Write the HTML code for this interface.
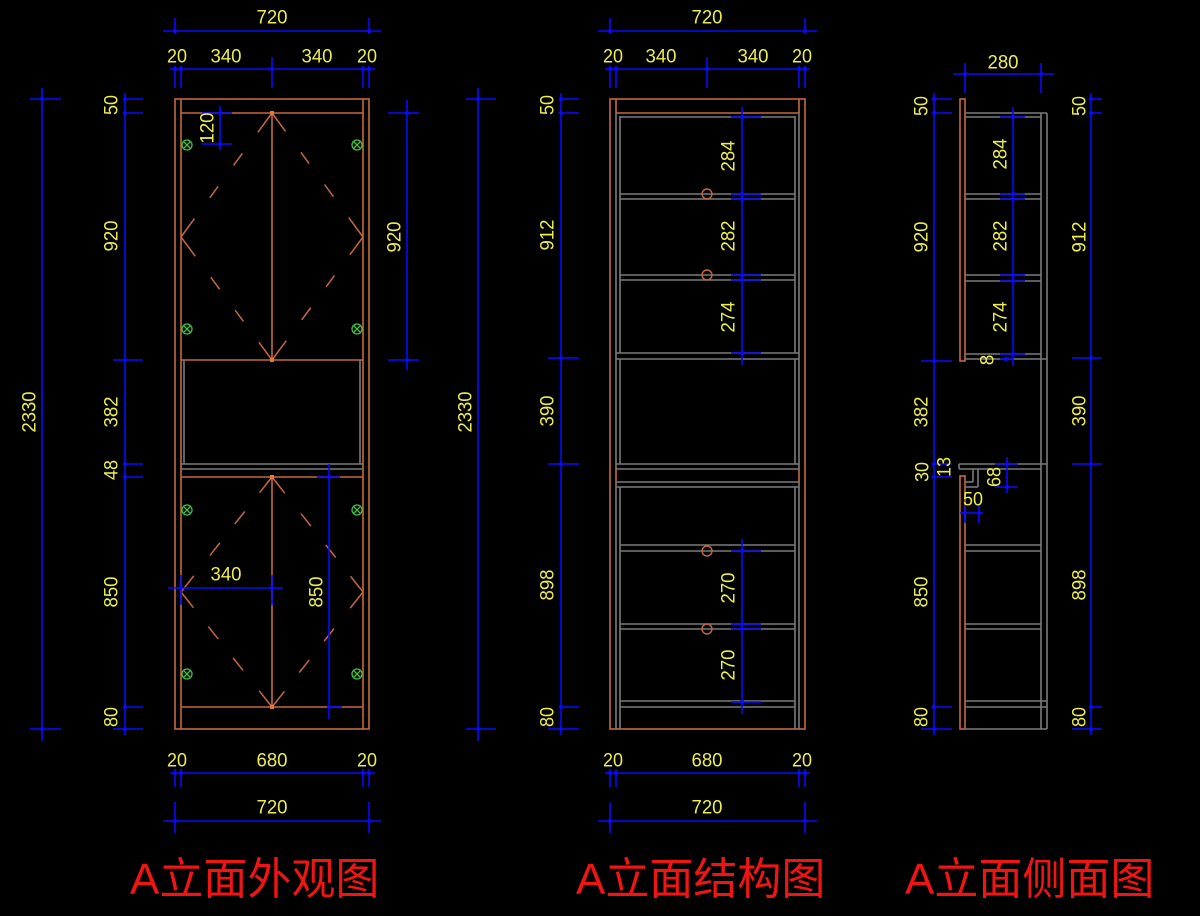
<!DOCTYPE html>
<html>
<head>
<meta charset="utf-8">
<style>
html,body{margin:0;padding:0;background:#000;}
body{width:1200px;height:916px;overflow:hidden;}
svg{display:block;}
.t{font-family:"Liberation Sans",sans-serif;font-size:19px;fill:#eded52;text-anchor:middle;dominant-baseline:central;}
.ttl{font-family:"Liberation Sans","Noto Sans CJK SC",sans-serif;font-size:44px;fill:#f01414;}
</style>
</head>
<body>
<svg width="1200" height="916" viewBox="0 0 1200 916" xmlns="http://www.w3.org/2000/svg">
<rect x="0" y="0" width="1200" height="916" fill="#000"/>

<!-- ================= LEFT DRAWING ================= -->
<g stroke="#c4693f" stroke-width="1.6" fill="none">
  <rect x="175" y="99" width="194" height="630"/>
  <line x1="181" y1="99" x2="181" y2="729"/>
  <line x1="363" y1="99" x2="363" y2="729"/>
  <line x1="181" y1="113" x2="363" y2="113"/>
  <line x1="181" y1="360" x2="363" y2="360"/>
  <line x1="181" y1="477" x2="363" y2="477"/>
  <line x1="181" y1="707" x2="363" y2="707"/>
  <line x1="272" y1="113" x2="272" y2="360"/>
  <line x1="272" y1="477" x2="272" y2="707"/>
</g>
<g stroke="#c4693f" stroke-width="1.5" fill="none" stroke-dasharray="24 26 15 26 14 26 24">
  <line x1="272" y1="113" x2="181" y2="237"/>
  <line x1="181" y1="237" x2="272" y2="360"/>
  <line x1="272" y1="360" x2="363" y2="237"/>
  <line x1="363" y1="237" x2="272" y2="113"/>
</g>
<g stroke="#c4693f" stroke-width="1.5" fill="none" stroke-dasharray="20 24 16 24 16 26 20">
  <line x1="272" y1="477" x2="181" y2="592"/>
  <line x1="181" y1="592" x2="272" y2="707"/>
  <line x1="272" y1="707" x2="363" y2="592"/>
  <line x1="363" y1="592" x2="272" y2="477"/>
</g>
<g fill="#e07a3a">
  <rect x="270" y="111" width="4" height="4"/>
  <rect x="270" y="358" width="4" height="4"/>
  <rect x="270" y="475" width="4" height="4"/>
  <rect x="270" y="705" width="4" height="4"/>
</g>
<g stroke="#7a7a7a" stroke-width="1.6">
  <line x1="184" y1="360" x2="184" y2="464"/>
  <line x1="360" y1="360" x2="360" y2="464"/>
  <line x1="181" y1="464" x2="363" y2="464"/>
  <line x1="181" y1="469" x2="363" y2="469"/>
</g>
<!-- green hinges -->
<g stroke="#3fc43f" stroke-width="1.3" fill="none">
  <circle cx="187" cy="145" r="5"/><path d="M184,142 L190,148 M190,142 L184,148"/>
  <circle cx="357" cy="145" r="5"/><path d="M354,142 L360,148 M360,142 L354,148"/>
  <circle cx="187" cy="329" r="5"/><path d="M184,326 L190,332 M190,326 L184,332"/>
  <circle cx="357" cy="329" r="5"/><path d="M354,326 L360,332 M360,326 L354,332"/>
  <circle cx="187" cy="510" r="5"/><path d="M184,507 L190,513 M190,507 L184,513"/>
  <circle cx="357" cy="510" r="5"/><path d="M354,507 L360,513 M360,507 L354,513"/>
  <circle cx="187" cy="674" r="5"/><path d="M184,671 L190,677 M190,671 L184,677"/>
  <circle cx="357" cy="674" r="5"/><path d="M354,671 L360,677 M360,671 L354,677"/>
</g>

<!-- left dims blue -->
<g stroke="#0a0aff" stroke-width="1.6" fill="none">
  <!-- top 720 -->
  <line x1="163" y1="31" x2="381" y2="31"/>
  <line x1="175" y1="18" x2="175" y2="34"/>
  <line x1="369" y1="18" x2="369" y2="34"/>
  <!-- 20 340 340 20 -->
  <line x1="170" y1="69" x2="375" y2="69"/>
  <line x1="175" y1="66" x2="175" y2="88"/>
  <line x1="181" y1="66" x2="181" y2="88"/>
  <line x1="272" y1="57" x2="272" y2="88"/>
  <line x1="363" y1="66" x2="363" y2="88"/>
  <line x1="369" y1="66" x2="369" y2="88"/>
  <!-- 2330 -->
  <line x1="42" y1="88" x2="42" y2="741"/>
  <line x1="30" y1="99" x2="61" y2="99"/>
  <line x1="30" y1="729" x2="61" y2="729"/>
  <!-- segment column -->
  <line x1="125" y1="93" x2="125" y2="735"/>
  <line x1="123" y1="99" x2="143" y2="99"/>
  <line x1="123" y1="113" x2="143" y2="113"/>
  <line x1="113" y1="360" x2="143" y2="360"/>
  <line x1="123" y1="464" x2="143" y2="464"/>
  <line x1="123" y1="477" x2="143" y2="477"/>
  <line x1="123" y1="707" x2="143" y2="707"/>
  <line x1="113" y1="729" x2="143" y2="729"/>
  <!-- right 920 -->
  <line x1="407" y1="100" x2="407" y2="370"/>
  <line x1="388" y1="113" x2="419" y2="113"/>
  <line x1="388" y1="360" x2="419" y2="360"/>
  <!-- 120 -->
  <line x1="220" y1="106" x2="220" y2="150"/>
  <line x1="202" y1="113" x2="232" y2="113"/>
  <line x1="202" y1="144" x2="232" y2="144"/>
  <!-- 340 lower -->
  <line x1="168" y1="588" x2="283" y2="588"/>
  <line x1="181" y1="575" x2="181" y2="605"/>
  <line x1="272" y1="575" x2="272" y2="605"/>
  <!-- 850 lower -->
  <line x1="329" y1="464" x2="329" y2="719"/>
  <line x1="317" y1="477" x2="340" y2="477"/>
  <line x1="329" y1="707" x2="342" y2="707"/>
  <!-- bottom 20 680 20 -->
  <line x1="170" y1="773" x2="375" y2="773"/>
  <line x1="175" y1="769" x2="175" y2="787"/>
  <line x1="181" y1="769" x2="181" y2="787"/>
  <line x1="363" y1="769" x2="363" y2="787"/>
  <line x1="369" y1="769" x2="369" y2="787"/>
  <!-- bottom 720 -->
  <line x1="163" y1="821" x2="381" y2="821"/>
  <line x1="175" y1="802" x2="175" y2="833"/>
  <line x1="369" y1="802" x2="369" y2="833"/>
</g>
<g fill="#0a0aff">
  <circle cx="175" cy="31" r="2"/><circle cx="369" cy="31" r="2"/>
  <circle cx="175" cy="69" r="2"/><circle cx="181" cy="69" r="2"/><circle cx="272" cy="69" r="2"/><circle cx="363" cy="69" r="2"/><circle cx="369" cy="69" r="2"/>
  <circle cx="42" cy="99" r="2"/><circle cx="42" cy="729" r="2"/>
  <circle cx="125" cy="99" r="2"/><circle cx="125" cy="113" r="2"/><circle cx="125" cy="360" r="2"/><circle cx="125" cy="464" r="2"/><circle cx="125" cy="477" r="2"/><circle cx="125" cy="707" r="2"/><circle cx="125" cy="729" r="2"/>
  <circle cx="407" cy="113" r="2"/><circle cx="407" cy="360" r="2"/>
  <circle cx="220" cy="113" r="2"/><circle cx="220" cy="144" r="2"/>
  <circle cx="181" cy="588" r="2"/><circle cx="272" cy="588" r="2"/>
  <circle cx="329" cy="477" r="2"/><circle cx="329" cy="707" r="2"/>
  <circle cx="175" cy="773" r="2"/><circle cx="181" cy="773" r="2"/><circle cx="363" cy="773" r="2"/><circle cx="369" cy="773" r="2"/>
  <circle cx="175" cy="821" r="2"/><circle cx="369" cy="821" r="2"/>
</g>
<!-- left labels -->
<text class="t" x="272" y="18" textLength="31" lengthAdjust="spacingAndGlyphs">720</text>
<text class="t" x="177" y="57" textLength="20" lengthAdjust="spacingAndGlyphs">20</text>
<text class="t" x="226" y="57" textLength="31" lengthAdjust="spacingAndGlyphs">340</text>
<text class="t" x="317" y="57" textLength="31" lengthAdjust="spacingAndGlyphs">340</text>
<text class="t" x="367" y="57" textLength="20" lengthAdjust="spacingAndGlyphs">20</text>
<text class="t" transform="translate(112,105) rotate(-90)" textLength="20" lengthAdjust="spacingAndGlyphs">50</text>
<text class="t" transform="translate(112,236) rotate(-90)" textLength="31" lengthAdjust="spacingAndGlyphs">920</text>
<text class="t" transform="translate(30,412) rotate(-90)" textLength="41" lengthAdjust="spacingAndGlyphs">2330</text>
<text class="t" transform="translate(112,412) rotate(-90)" textLength="31" lengthAdjust="spacingAndGlyphs">382</text>
<text class="t" transform="translate(112,470) rotate(-90)" textLength="20" lengthAdjust="spacingAndGlyphs">48</text>
<text class="t" transform="translate(112,592) rotate(-90)" textLength="31" lengthAdjust="spacingAndGlyphs">850</text>
<text class="t" transform="translate(112,717) rotate(-90)" textLength="20" lengthAdjust="spacingAndGlyphs">80</text>
<text class="t" transform="translate(208,128) rotate(-90)" textLength="31" lengthAdjust="spacingAndGlyphs">120</text>
<text class="t" transform="translate(395,237) rotate(-90)" textLength="31" lengthAdjust="spacingAndGlyphs">920</text>
<text class="t" x="226" y="575" textLength="31" lengthAdjust="spacingAndGlyphs">340</text>
<text class="t" transform="translate(317,592) rotate(-90)" textLength="31" lengthAdjust="spacingAndGlyphs">850</text>
<text class="t" x="177" y="761" textLength="20" lengthAdjust="spacingAndGlyphs">20</text>
<text class="t" x="272" y="761" textLength="31" lengthAdjust="spacingAndGlyphs">680</text>
<text class="t" x="367" y="761" textLength="20" lengthAdjust="spacingAndGlyphs">20</text>
<text class="t" x="272" y="808" textLength="31" lengthAdjust="spacingAndGlyphs">720</text>

<!-- ================= MIDDLE DRAWING ================= -->
<g stroke="#c4693f" stroke-width="1.6" fill="none">
  <rect x="610" y="99" width="195" height="630"/>
  <line x1="616" y1="113" x2="799" y2="113"/>
  <line x1="616" y1="99" x2="616" y2="113"/>
  <line x1="799" y1="99" x2="799" y2="113"/>
  <line x1="616" y1="469" x2="616" y2="482"/>
  <line x1="799" y1="469" x2="799" y2="482"/>
</g>
<g stroke="#7a7a7a" stroke-width="1.6" fill="none">
  <line x1="616" y1="113" x2="616" y2="469"/>
  <line x1="616" y1="482" x2="616" y2="729"/>
  <line x1="799" y1="113" x2="799" y2="469"/>
  <line x1="799" y1="482" x2="799" y2="729"/>
  <line x1="620" y1="116" x2="620" y2="353"/>
  <line x1="620" y1="359" x2="620" y2="464"/>
  <line x1="620" y1="487" x2="620" y2="729"/>
  <line x1="795" y1="116" x2="795" y2="353"/>
  <line x1="795" y1="359" x2="795" y2="464"/>
  <line x1="795" y1="487" x2="795" y2="729"/>
  <line x1="620" y1="117" x2="795" y2="117"/>
  <line x1="620" y1="194" x2="795" y2="194"/>
  <line x1="620" y1="199" x2="795" y2="199"/>
  <line x1="620" y1="275" x2="795" y2="275"/>
  <line x1="620" y1="280" x2="795" y2="280"/>
  <line x1="616" y1="353" x2="799" y2="353"/>
  <line x1="616" y1="359" x2="799" y2="359"/>
  <line x1="616" y1="464" x2="799" y2="464"/>
  <line x1="616" y1="469" x2="799" y2="469"/>
  <line x1="616" y1="482" x2="799" y2="482"/>
  <line x1="616" y1="487" x2="799" y2="487"/>
  <line x1="620" y1="545" x2="795" y2="545"/>
  <line x1="620" y1="551" x2="795" y2="551"/>
  <line x1="620" y1="624" x2="795" y2="624"/>
  <line x1="620" y1="629" x2="795" y2="629"/>
  <line x1="620" y1="701" x2="795" y2="701"/>
  <line x1="620" y1="707" x2="795" y2="707"/>
</g>
<g stroke="#c4693f" stroke-width="1.4" fill="none">
  <circle cx="707" cy="194" r="5"/>
  <circle cx="707" cy="275" r="5"/>
  <circle cx="707" cy="551" r="5"/>
  <circle cx="707" cy="629" r="5"/>
</g>
<g stroke="#0a0aff" stroke-width="1.6" fill="none">
  <!-- top 720 -->
  <line x1="598" y1="31" x2="817" y2="31"/>
  <line x1="610" y1="18" x2="610" y2="34"/>
  <line x1="805" y1="18" x2="805" y2="34"/>
  <line x1="605" y1="69" x2="810" y2="69"/>
  <line x1="610" y1="66" x2="610" y2="88"/>
  <line x1="616" y1="66" x2="616" y2="88"/>
  <line x1="707" y1="57" x2="707" y2="88"/>
  <line x1="799" y1="66" x2="799" y2="88"/>
  <line x1="805" y1="66" x2="805" y2="88"/>
  <!-- 2330 -->
  <line x1="478" y1="88" x2="478" y2="741"/>
  <line x1="466" y1="99" x2="496" y2="99"/>
  <line x1="466" y1="729" x2="496" y2="729"/>
  <!-- segments -->
  <line x1="561" y1="93" x2="561" y2="735"/>
  <line x1="559" y1="99" x2="579" y2="99"/>
  <line x1="559" y1="113" x2="579" y2="113"/>
  <line x1="548" y1="358" x2="579" y2="358"/>
  <line x1="548" y1="464" x2="579" y2="464"/>
  <line x1="559" y1="707" x2="579" y2="707"/>
  <line x1="548" y1="729" x2="579" y2="729"/>
  <!-- shelf dims -->
  <line x1="742" y1="107" x2="742" y2="365"/>
  <line x1="731" y1="117" x2="761" y2="117"/>
  <line x1="731" y1="194" x2="761" y2="194"/>
  <line x1="731" y1="199" x2="761" y2="199"/>
  <line x1="731" y1="275" x2="761" y2="275"/>
  <line x1="731" y1="280" x2="761" y2="280"/>
  <line x1="731" y1="353" x2="761" y2="353"/>
  <line x1="742" y1="539" x2="742" y2="714"/>
  <line x1="731" y1="551" x2="761" y2="551"/>
  <line x1="731" y1="624" x2="761" y2="624"/>
  <line x1="731" y1="629" x2="761" y2="629"/>
  <line x1="731" y1="702" x2="761" y2="702"/>
  <!-- bottom -->
  <line x1="605" y1="773" x2="810" y2="773"/>
  <line x1="610" y1="769" x2="610" y2="787"/>
  <line x1="616" y1="769" x2="616" y2="787"/>
  <line x1="799" y1="769" x2="799" y2="787"/>
  <line x1="805" y1="769" x2="805" y2="787"/>
  <line x1="598" y1="821" x2="817" y2="821"/>
  <line x1="610" y1="802" x2="610" y2="833"/>
  <line x1="805" y1="802" x2="805" y2="833"/>
</g>
<g fill="#0a0aff">
  <circle cx="610" cy="31" r="2"/><circle cx="805" cy="31" r="2"/>
  <circle cx="610" cy="69" r="2"/><circle cx="616" cy="69" r="2"/><circle cx="707" cy="69" r="2"/><circle cx="799" cy="69" r="2"/><circle cx="805" cy="69" r="2"/>
  <circle cx="478" cy="99" r="2"/><circle cx="478" cy="729" r="2"/>
  <circle cx="561" cy="99" r="2"/><circle cx="561" cy="113" r="2"/><circle cx="561" cy="358" r="2"/><circle cx="561" cy="464" r="2"/><circle cx="561" cy="707" r="2"/><circle cx="561" cy="729" r="2"/>
  <circle cx="742" cy="117" r="2"/><circle cx="742" cy="194" r="2"/><circle cx="742" cy="199" r="2"/><circle cx="742" cy="275" r="2"/><circle cx="742" cy="280" r="2"/><circle cx="742" cy="353" r="2"/>
  <circle cx="742" cy="551" r="2"/><circle cx="742" cy="624" r="2"/><circle cx="742" cy="629" r="2"/><circle cx="742" cy="702" r="2"/>
  <circle cx="610" cy="773" r="2"/><circle cx="616" cy="773" r="2"/><circle cx="799" cy="773" r="2"/><circle cx="805" cy="773" r="2"/>
  <circle cx="610" cy="821" r="2"/><circle cx="805" cy="821" r="2"/>
</g>
<text class="t" x="707" y="18" textLength="31" lengthAdjust="spacingAndGlyphs">720</text>
<text class="t" x="613" y="57" textLength="20" lengthAdjust="spacingAndGlyphs">20</text>
<text class="t" x="661" y="57" textLength="31" lengthAdjust="spacingAndGlyphs">340</text>
<text class="t" x="753" y="57" textLength="31" lengthAdjust="spacingAndGlyphs">340</text>
<text class="t" x="802" y="57" textLength="20" lengthAdjust="spacingAndGlyphs">20</text>
<text class="t" transform="translate(548,105) rotate(-90)" textLength="20" lengthAdjust="spacingAndGlyphs">50</text>
<text class="t" transform="translate(548,235) rotate(-90)" textLength="31" lengthAdjust="spacingAndGlyphs">912</text>
<text class="t" transform="translate(466,412) rotate(-90)" textLength="41" lengthAdjust="spacingAndGlyphs">2330</text>
<text class="t" transform="translate(548,411) rotate(-90)" textLength="31" lengthAdjust="spacingAndGlyphs">390</text>
<text class="t" transform="translate(548,585) rotate(-90)" textLength="31" lengthAdjust="spacingAndGlyphs">898</text>
<text class="t" transform="translate(548,717) rotate(-90)" textLength="20" lengthAdjust="spacingAndGlyphs">80</text>
<text class="t" transform="translate(729,156) rotate(-90)" textLength="31" lengthAdjust="spacingAndGlyphs">284</text>
<text class="t" transform="translate(729,236) rotate(-90)" textLength="31" lengthAdjust="spacingAndGlyphs">282</text>
<text class="t" transform="translate(729,317) rotate(-90)" textLength="31" lengthAdjust="spacingAndGlyphs">274</text>
<text class="t" transform="translate(729,588) rotate(-90)" textLength="31" lengthAdjust="spacingAndGlyphs">270</text>
<text class="t" transform="translate(729,665) rotate(-90)" textLength="31" lengthAdjust="spacingAndGlyphs">270</text>
<text class="t" x="613" y="761" textLength="20" lengthAdjust="spacingAndGlyphs">20</text>
<text class="t" x="707" y="761" textLength="31" lengthAdjust="spacingAndGlyphs">680</text>
<text class="t" x="802" y="761" textLength="20" lengthAdjust="spacingAndGlyphs">20</text>
<text class="t" x="707" y="808" textLength="31" lengthAdjust="spacingAndGlyphs">720</text>

<!-- ================= RIGHT DRAWING ================= -->
<g stroke="#c4693f" stroke-width="1.6" fill="none">
  <rect x="960" y="99" width="5" height="262"/>
  <rect x="960" y="476" width="5" height="253"/>
</g>
<g stroke="#7a7a7a" stroke-width="1.6" fill="none">
  <line x1="965" y1="113" x2="1047" y2="113"/>
  <line x1="965" y1="117" x2="1041" y2="117"/>
  <line x1="1041" y1="113" x2="1041" y2="729"/>
  <line x1="1047" y1="113" x2="1047" y2="729"/>
  <line x1="965" y1="194" x2="1041" y2="194"/>
  <line x1="965" y1="199" x2="1041" y2="199"/>
  <line x1="965" y1="275" x2="1041" y2="275"/>
  <line x1="965" y1="281" x2="1041" y2="281"/>
  <line x1="965" y1="354" x2="1041" y2="354"/>
  <line x1="965" y1="359" x2="1047" y2="359"/>
  <line x1="959" y1="464" x2="1047" y2="464"/>
  <line x1="959" y1="469" x2="1041" y2="469"/>
  <line x1="959" y1="464" x2="959" y2="469"/>
  <line x1="973" y1="469" x2="973" y2="482"/>
  <line x1="978" y1="469" x2="978" y2="487"/>
  <line x1="965" y1="482" x2="973" y2="482"/>
  <line x1="965" y1="487" x2="978" y2="487"/>
  <line x1="965" y1="545" x2="1041" y2="545"/>
  <line x1="965" y1="551" x2="1041" y2="551"/>
  <line x1="965" y1="624" x2="1041" y2="624"/>
  <line x1="965" y1="629" x2="1041" y2="629"/>
  <line x1="965" y1="701" x2="1047" y2="701"/>
  <line x1="965" y1="707" x2="1047" y2="707"/>
  <line x1="965" y1="729" x2="1047" y2="729"/>
</g>
<g stroke="#0a0aff" stroke-width="1.6" fill="none">
  <!-- 280 -->
  <line x1="953" y1="74" x2="1054" y2="74"/>
  <line x1="965" y1="63" x2="965" y2="93"/>
  <line x1="1041" y1="63" x2="1041" y2="93"/>
  <!-- left column -->
  <line x1="934" y1="93" x2="934" y2="735"/>
  <line x1="932" y1="99" x2="952" y2="99"/>
  <line x1="932" y1="113" x2="952" y2="113"/>
  <line x1="921" y1="361" x2="952" y2="361"/>
  <line x1="932" y1="464" x2="952" y2="464"/>
  <line x1="932" y1="477" x2="952" y2="477"/>
  <line x1="932" y1="707" x2="952" y2="707"/>
  <line x1="921" y1="729" x2="952" y2="729"/>
  <!-- right column -->
  <line x1="1091" y1="93" x2="1091" y2="735"/>
  <line x1="1089" y1="99" x2="1102" y2="99"/>
  <line x1="1089" y1="113" x2="1102" y2="113"/>
  <line x1="1072" y1="358" x2="1102" y2="358"/>
  <line x1="1072" y1="464" x2="1102" y2="464"/>
  <line x1="1089" y1="707" x2="1102" y2="707"/>
  <line x1="1072" y1="729" x2="1102" y2="729"/>
  <!-- shelf dims -->
  <line x1="1013" y1="107" x2="1013" y2="366"/>
  <line x1="1000" y1="117" x2="1025" y2="117"/>
  <line x1="1000" y1="194" x2="1025" y2="194"/>
  <line x1="1000" y1="199" x2="1025" y2="199"/>
  <line x1="1000" y1="275" x2="1025" y2="275"/>
  <line x1="1000" y1="281" x2="1025" y2="281"/>
  <line x1="1000" y1="354" x2="1025" y2="354"/>
  <line x1="1000" y1="359" x2="1013" y2="359"/>
  <!-- 68 -->
  <line x1="1007" y1="457" x2="1007" y2="493"/>
  <line x1="995" y1="464" x2="1018" y2="464"/>
  <line x1="995" y1="487" x2="1018" y2="487"/>
  <!-- 50 -->
  <line x1="960" y1="513" x2="983" y2="513"/>
  <line x1="965" y1="505" x2="965" y2="523"/>
  <line x1="979" y1="505" x2="979" y2="523"/>
</g>
<g fill="#0a0aff">
  <circle cx="965" cy="74" r="2"/><circle cx="1041" cy="74" r="2"/>
  <circle cx="934" cy="99" r="2"/><circle cx="934" cy="113" r="2"/><circle cx="934" cy="361" r="2"/><circle cx="934" cy="464" r="2"/><circle cx="934" cy="477" r="2"/><circle cx="934" cy="707" r="2"/><circle cx="934" cy="729" r="2"/>
  <circle cx="1091" cy="99" r="2"/><circle cx="1091" cy="113" r="2"/><circle cx="1091" cy="358" r="2"/><circle cx="1091" cy="464" r="2"/><circle cx="1091" cy="707" r="2"/><circle cx="1091" cy="729" r="2"/>
  <circle cx="1013" cy="117" r="2"/><circle cx="1013" cy="194" r="2"/><circle cx="1013" cy="199" r="2"/><circle cx="1013" cy="275" r="2"/><circle cx="1013" cy="281" r="2"/><circle cx="1013" cy="354" r="2"/><circle cx="1006" cy="359" r="2"/>
  <circle cx="1007" cy="464" r="2"/><circle cx="1007" cy="487" r="2"/>
  <circle cx="965" cy="513" r="2"/><circle cx="979" cy="513" r="2"/>
</g>
<text class="t" x="1003" y="63" textLength="31" lengthAdjust="spacingAndGlyphs">280</text>
<text class="t" transform="translate(922,106) rotate(-90)" textLength="20" lengthAdjust="spacingAndGlyphs">50</text>
<text class="t" transform="translate(922,237) rotate(-90)" textLength="31" lengthAdjust="spacingAndGlyphs">920</text>
<text class="t" transform="translate(922,412) rotate(-90)" textLength="31" lengthAdjust="spacingAndGlyphs">382</text>
<text class="t" transform="translate(923,472) rotate(-90)" textLength="20" lengthAdjust="spacingAndGlyphs">30</text>
<text class="t" transform="translate(945,467) rotate(-90)" textLength="20" lengthAdjust="spacingAndGlyphs">13</text>
<text class="t" transform="translate(922,592) rotate(-90)" textLength="31" lengthAdjust="spacingAndGlyphs">850</text>
<text class="t" transform="translate(922,717) rotate(-90)" textLength="20" lengthAdjust="spacingAndGlyphs">80</text>
<text class="t" transform="translate(1001,154) rotate(-90)" textLength="31" lengthAdjust="spacingAndGlyphs">284</text>
<text class="t" transform="translate(1001,236) rotate(-90)" textLength="31" lengthAdjust="spacingAndGlyphs">282</text>
<text class="t" transform="translate(1001,317) rotate(-90)" textLength="31" lengthAdjust="spacingAndGlyphs">274</text>
<text class="t" transform="translate(988,360) rotate(-90)">8</text>
<text class="t" transform="translate(995,477) rotate(-90)" textLength="20" lengthAdjust="spacingAndGlyphs">68</text>
<text class="t" x="973" y="500" textLength="20" lengthAdjust="spacingAndGlyphs">50</text>
<text class="t" transform="translate(1080,106) rotate(-90)" textLength="20" lengthAdjust="spacingAndGlyphs">50</text>
<text class="t" transform="translate(1080,237) rotate(-90)" textLength="31" lengthAdjust="spacingAndGlyphs">912</text>
<text class="t" transform="translate(1080,411) rotate(-90)" textLength="31" lengthAdjust="spacingAndGlyphs">390</text>
<text class="t" transform="translate(1080,585) rotate(-90)" textLength="31" lengthAdjust="spacingAndGlyphs">898</text>
<text class="t" transform="translate(1080,717) rotate(-90)" textLength="20" lengthAdjust="spacingAndGlyphs">80</text>

<!-- ================= TITLES ================= -->
<text class="ttl" x="130" y="894">A立面外观图</text>
<text class="ttl" x="576" y="894">A立面结构图</text>
<text class="ttl" x="905" y="894">A立面侧面图</text>
</svg>
</body>
</html>
